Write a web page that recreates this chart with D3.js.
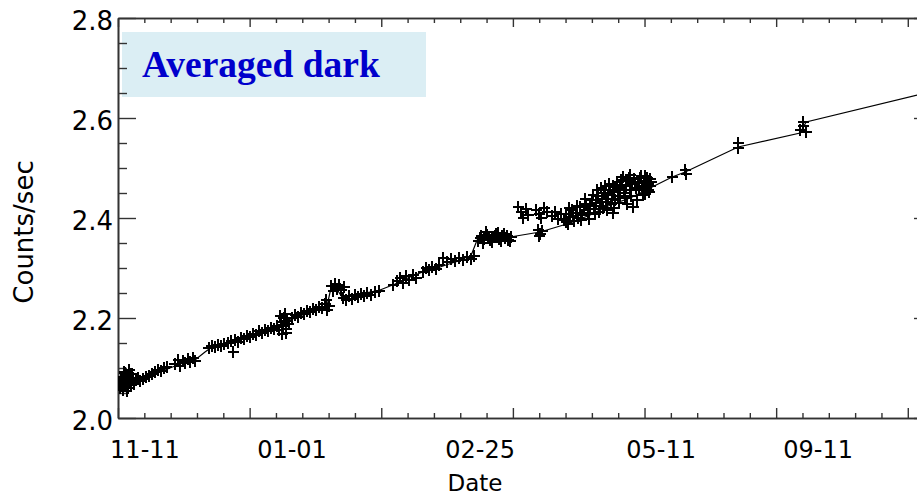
<!DOCTYPE html>
<html>
<head>
<meta charset="utf-8">
<script src="https://cdn.jsdelivr.net/npm/d3@7"></script>
<style>
  html, body { margin: 0; padding: 0; background: #fff; }
  svg { display: block; }
</style>
</head>
<body>
<div id="chart"></div>
<script>
// ---- Data ----
const yMajorTicks = [2.0, 2.2, 2.4, 2.6, 2.8];
const yMinorTicks = [2.05, 2.1, 2.15, 2.25, 2.3, 2.35, 2.45, 2.5, 2.55, 2.65, 2.7, 2.75];
const xMajorTicks = [0, 100, 200, 300, 400, 500, 600];
const xMinorTicks = [20, 40, 60, 80, 120, 140, 160, 180, 220, 240, 260, 280, 320, 340, 360, 380, 420, 440, 460, 480, 520, 540, 560, 580];
const dateLabels = ["11-11", "01-01", "02-25", "05-11", "09-11"];
const dateLabelDays = [20.5, 132.2, 275.1, 412.6, 531.9];

// averaged trend line (day index, counts/sec)
const trendDays = [0, 7.6, 16.7, 31.9, 47.1, 58.5, 66.1, 71.4, 81.3, 92.7, 107.9, 121.6, 126.9, 138.3, 149.7, 158.8, 161.1, 165.7, 170.2, 183.9, 199.1, 210.5, 221.9, 233.3, 244.7, 256.1, 267.5, 272.8, 282.7, 297.9, 320.7, 343.5, 358.7, 373.9, 389.1, 404.3, 421.0, 430.9, 471.1, 518.2, 522.8, 607.1];
const trendCounts = [2.056, 2.064, 2.074, 2.092, 2.108, 2.116, 2.132, 2.142, 2.146, 2.156, 2.170, 2.184, 2.192, 2.204, 2.216, 2.224, 2.252, 2.260, 2.242, 2.248, 2.256, 2.268, 2.282, 2.294, 2.302, 2.312, 2.320, 2.356, 2.360, 2.362, 2.372, 2.390, 2.406, 2.426, 2.440, 2.460, 2.482, 2.492, 2.542, 2.570, 2.592, 2.646];

// individual measurements (day index, counts/sec)
const pointDays = [
  1.5, 2.3, 3.0, 3.8, 4.6, 5.3, 6.1, 6.8, 7.6, 8.4, 9.1, 9.9, 11.4, 12.2, 13.7, 15.2, 16.7,
  0.8, 2.3, 4.6, 6.8, 8.4, 10.6,
  19.0, 21.3, 23.6, 25.8, 28.1, 30.4, 32.7, 35.0, 37.2,
  43.3, 45.6, 47.1, 49.4, 50.9, 53.2, 54.7, 57.0, 58.5,
  69.1, 71.4, 73.7, 76.0, 78.3, 80.5,
  83.6, 85.9, 87.4, 88.9, 91.2, 93.5, 95.7, 98.0, 100.3, 102.6, 104.9, 107.1, 109.4, 111.7, 114.0, 116.3, 118.5, 120.8,
  122.3, 123.9, 125.4, 126.1, 127.7, 128.4, 129.9,
  123.1, 124.6, 126.9, 127.7,
  132.2, 134.5, 136.8, 139.1, 141.3, 143.6, 145.9, 148.2, 150.5, 152.7, 155.0,
  157.3, 158.1, 158.8, 160.3,
  161.9, 163.4, 164.9, 166.4, 167.9, 169.5, 171.7,
  171.0, 173.3, 175.5, 177.8, 180.1, 182.4, 184.7, 186.9, 189.2, 192.2, 195.3, 198.3,
  209.0, 212.0, 214.3, 216.6, 218.8, 221.1, 224.2, 226.4,
  231.8, 234.0, 236.3, 238.6, 241.6, 243.9,
  247.0, 250.0, 253.0, 256.1, 259.1, 262.2, 265.2, 268.2, 270.5,
  273.6, 275.8, 278.1, 280.4, 282.7, 285.0, 287.2, 289.5, 291.8, 294.1, 296.4, 298.6,
  275.1, 277.4, 279.6, 281.9, 284.2, 286.5, 288.8, 291.0, 293.3, 295.6, 297.9,
  304.0, 306.2, 307.8, 310.0, 311.6, 317.6, 319.9, 321.4, 323.7, 326.0, 329.8, 332.1, 334.3, 336.6,
  319.1, 319.9, 320.7, 322.2,
  338.9, 340.4, 342.0, 343.5, 345.0, 346.5, 348.0, 349.5, 351.1, 352.6, 354.1, 355.6, 357.1, 358.7, 360.2, 361.7, 363.2, 364.7, 366.3, 367.8, 369.3, 370.8,
  372.3, 373.9, 375.4, 376.9, 378.4, 379.9, 381.5, 383.0, 384.5, 386.0, 387.5, 389.1, 390.6, 392.1, 393.6, 395.1, 396.7, 398.2, 399.7, 401.2, 402.7, 404.3,
  340.4, 342.7, 345.7, 348.8, 351.8, 354.9, 357.9, 361.0, 362.5, 364.0, 365.5, 367.0, 368.5, 370.1, 371.6, 373.1,
  374.6, 376.1, 377.7, 379.2, 380.7, 382.2, 385.3, 388.3, 389.8, 392.9, 395.9, 397.4, 400.5, 402.0, 403.5, 405.0,
  376.1, 376.9, 386.8, 391.3, 394.4, 399.0,
  383.7, 389.1, 400.5, 402.7, 404.3,
  421.0, 430.9, 431.6, 471.1, 471.1, 518.2, 520.5, 520.5, 522.8
];
const pointCounts = [
  2.060, 2.070, 2.078, 2.056, 2.064, 2.090, 2.072, 2.084, 2.060, 2.074, 2.088, 2.066, 2.080, 2.068, 2.076, 2.080, 2.074,
  2.068, 2.082, 2.092, 2.054, 2.096, 2.088,
  2.078, 2.082, 2.084, 2.088, 2.092, 2.096, 2.094, 2.100, 2.102,
  2.108, 2.116, 2.104, 2.114, 2.110, 2.118, 2.112, 2.120, 2.114,
  2.140, 2.144, 2.142, 2.146, 2.144, 2.148,
  2.150, 2.154, 2.132, 2.156, 2.152, 2.160, 2.158, 2.164, 2.162, 2.168, 2.166, 2.174, 2.170, 2.176, 2.174, 2.180, 2.178, 2.184,
  2.176, 2.192, 2.184, 2.200, 2.178, 2.194, 2.188,
  2.204, 2.168, 2.208, 2.170,
  2.200, 2.206, 2.202, 2.210, 2.208, 2.214, 2.212, 2.218, 2.216, 2.222, 2.220,
  2.228, 2.236, 2.216, 2.224,
  2.264, 2.254, 2.268, 2.258, 2.266, 2.256, 2.262,
  2.240, 2.236, 2.244, 2.238, 2.246, 2.242, 2.248, 2.244, 2.250, 2.246, 2.252, 2.254,
  2.266, 2.274, 2.280, 2.270, 2.284, 2.276, 2.286, 2.280,
  2.292, 2.300, 2.296, 2.302, 2.298, 2.306,
  2.320, 2.312, 2.318, 2.314, 2.320, 2.316, 2.322, 2.318, 2.324,
  2.354, 2.364, 2.358, 2.366, 2.356, 2.362, 2.368, 2.358, 2.364, 2.360, 2.356, 2.362,
  2.360, 2.350, 2.372, 2.362, 2.352, 2.364, 2.370, 2.354, 2.368, 2.364, 2.354,
  2.422, 2.412, 2.400, 2.418, 2.406, 2.416, 2.408, 2.400, 2.420, 2.412, 2.404, 2.412, 2.398, 2.408,
  2.376, 2.364, 2.368, 2.374,
  2.396, 2.408, 2.388, 2.402, 2.416, 2.394, 2.410, 2.400, 2.422, 2.406, 2.416, 2.428, 2.410, 2.424, 2.436, 2.418, 2.430, 2.444, 2.424, 2.438, 2.450, 2.432,
  2.446, 2.456, 2.438, 2.452, 2.462, 2.444, 2.458, 2.466, 2.450, 2.464, 2.474, 2.456, 2.468, 2.478, 2.460, 2.472, 2.480, 2.464, 2.474, 2.460, 2.468, 2.478,
  2.392, 2.420, 2.404, 2.424, 2.396, 2.438, 2.398, 2.446, 2.408, 2.456, 2.412, 2.460, 2.420, 2.464, 2.416, 2.468,
  2.428, 2.464, 2.436, 2.472, 2.430, 2.476, 2.440, 2.480, 2.444, 2.470, 2.456, 2.484, 2.448, 2.480, 2.452, 2.472,
  2.410, 2.420, 2.428, 2.422, 2.436, 2.446,
  2.482, 2.486, 2.484, 2.456, 2.464,
  2.482, 2.496, 2.488, 2.550, 2.540, 2.576, 2.584, 2.592, 2.572
];

// ---- Chart ----
const W = 917, H = 498;
const FONT = "'DejaVu Sans', Lato, sans-serif";
const svg = d3.select("#chart").append("svg").attr("width", W).attr("height", H);

const x = d3.scaleLinear().domain([0, 607]).range([118, 917]);
const y = d3.scaleLinear().domain([2.0, 2.8]).range([418, 18]);
const AX = "#333";

// title box
svg.append("rect").attr("x", 122).attr("y", 32).attr("width", 304).attr("height", 65).attr("fill", "#dbeef4");
svg.append("text").attr("x", 142).attr("y", 77)
  .attr("font-family", "'Liberation Serif', 'Times New Roman', serif")
  .attr("font-weight", "bold").attr("font-size", 37.5).attr("fill", "#0000cc")
  .text("Averaged dark");

function styleAxis(g) {
  g.selectAll("path.domain").attr("stroke", AX).attr("stroke-width", 1.6);
  g.selectAll(".tick line").attr("stroke", AX).attr("stroke-width", 1.4);
}

// bottom axis
svg.append("g").attr("transform", "translate(0,418)")
  .call(d3.axisBottom(x).tickValues(xMajorTicks).tickSizeInner(-10).tickSizeOuter(0).tickFormat(""))
  .call(styleAxis);
svg.append("g").attr("transform", "translate(0,418)")
  .call(d3.axisBottom(x).tickValues(xMinorTicks).tickSizeInner(-5).tickSizeOuter(0).tickFormat(""))
  .call(styleAxis);
// top axis
svg.append("g").attr("transform", "translate(0,18)")
  .call(d3.axisTop(x).tickValues(xMajorTicks).tickSizeInner(-9).tickSizeOuter(0).tickFormat(""))
  .call(styleAxis);
svg.append("g").attr("transform", "translate(0,18)")
  .call(d3.axisTop(x).tickValues(xMinorTicks).tickSizeInner(-5).tickSizeOuter(0).tickFormat(""))
  .call(styleAxis);
// left axis
const gl = svg.append("g").attr("transform", "translate(118,0)")
  .call(d3.axisLeft(y).tickValues(yMajorTicks).tickSizeInner(-18).tickSizeOuter(0).tickPadding(5).tickFormat(d3.format(".1f")))
  .call(styleAxis);
gl.selectAll(".tick text").attr("font-family", FONT).attr("font-size", 26).attr("fill", "#000").attr("dy", "0.45em");
svg.append("g").attr("transform", "translate(118,0)")
  .call(d3.axisLeft(y).tickValues(yMinorTicks).tickSizeInner(-9).tickSizeOuter(0).tickFormat(""))
  .call(styleAxis);
// right axis (mostly outside the view)
svg.append("g").attr("transform", "translate(919,0)")
  .call(d3.axisRight(y).tickValues(yMajorTicks).tickSizeInner(-5).tickSizeOuter(0).tickFormat(""))
  .call(styleAxis);

// date labels
svg.append("g").selectAll("text").data(dateLabels).join("text")
  .attr("x", (d, i) => x(dateLabelDays[i])).attr("y", 458)
  .attr("text-anchor", "middle").attr("font-family", FONT).attr("font-size", 24).attr("fill", "#000")
  .text(d => d);

// axis titles
svg.append("text").attr("x", 475).attr("y", 491).attr("text-anchor", "middle")
  .attr("font-family", FONT).attr("font-size", 23).attr("fill", "#000").text("Date");
svg.append("text").attr("transform", "translate(33,232) rotate(-90)").attr("text-anchor", "middle")
  .attr("font-family", FONT).attr("font-size", 26).attr("fill", "#000").text("Counts/sec");

// plot content (clipped to plot area)
svg.append("clipPath").attr("id", "clip").append("rect").attr("x", 118).attr("y", 18).attr("width", 799).attr("height", 400);
const plot = svg.append("g").attr("clip-path", "url(#clip)");

const trend = trendDays.map((d, i) => [d, trendCounts[i]]);
plot.append("path").datum(trend)
  .attr("fill", "none").attr("stroke", "#000").attr("stroke-width", 1.2)
  .attr("d", d3.line().x(d => x(d[0])).y(d => y(d[1])));

const pts = pointDays.map((d, i) => [d, pointCounts[i]]);
plot.append("g").attr("shape-rendering", "crispEdges").selectAll("path").data(pts).join("path")
  .attr("transform", d => `translate(${x(d[0])},${y(d[1])})`)
  .attr("d", "M-5.5,0H5.5M0,-6V6")
  .attr("stroke", "#000").attr("stroke-width", 2).attr("fill", "none");
</script>
</body>
</html>
